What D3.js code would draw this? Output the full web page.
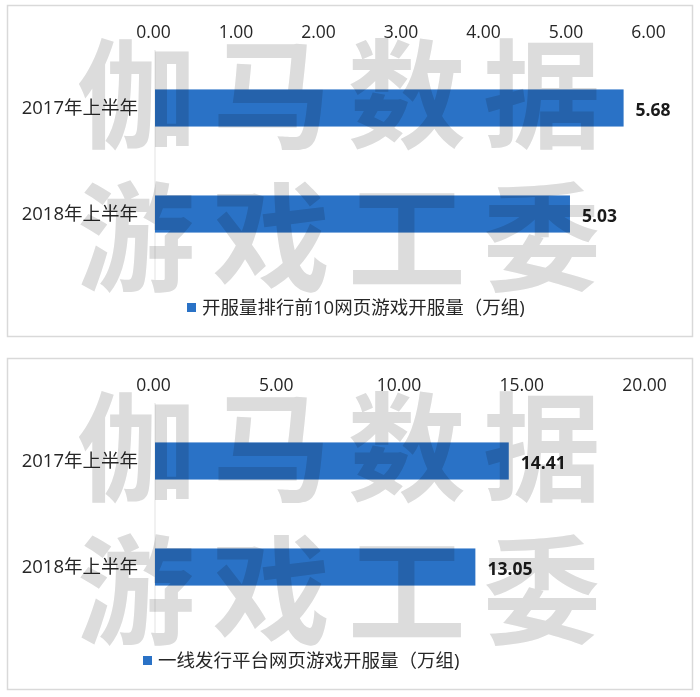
<!DOCTYPE html>
<html><head><meta charset="utf-8">
<script src="https://cdn.jsdelivr.net/npm/d3@7"></script>
<style>
html,body{margin:0;padding:0;background:#fff;}
svg{display:block;}
</style></head>
<body>
<script>
const categories = ["2017年上半年", "2018年上半年"];
const seriesTop = [5.68, 5.03];
const seriesBottom = [14.41, 13.05];
const ticksTop = [0, 1, 2, 3, 4, 5, 6];
const ticksBottom = [0, 5, 10, 15, 20];
const legendTop = "开服量排行前10网页游戏开服量（万组)";
const legendBottom = "一线发行平台网页游戏开服量（万组)";
const watermark = ["伽马数据", "游戏工委"];

const W = 700, H = 697;
const svg = d3.select("body").append("svg").attr("width", W).attr("height", H);
svg.append("rect").attr("width", W).attr("height", H).attr("fill", "#fff");

const FONT = "'Open Sans', 'Noto Sans CJK SC', sans-serif";
const WMFONT = "'Noto Sans CJK SC', sans-serif";
const BLUE = "#2a72c6";
const FS = 18.5;

function panel(top, values, ticks, legendText, legendX, xEnd) {
  const g = svg.append("g");
  g.append("rect").attr("x", 7.5).attr("y", top + 0.5).attr("width", 685).attr("height", 331)
    .attr("fill", "#fff").attr("stroke", "#d9d9d9").attr("stroke-width", 1.5);

  const x = d3.scaleLinear().domain([0, d3.max(ticks)]).range([155, xEnd]);
  const y = d3.scaleBand().domain(categories).range([top + 15.5, top + 296.5]).padding(0.65);

  g.append("line").attr("x1", x(0)).attr("x2", x(0))
    .attr("y1", top + 45).attr("y2", top + 275)
    .attr("stroke", "#e3e3e3").attr("stroke-width", 1);

  const ax = g.append("g").attr("transform", `translate(-2,${top + 33})`)
    .call(d3.axisTop(x).tickValues(ticks).tickSize(0).tickPadding(0).tickFormat(d3.format(".2f")));
  ax.select(".domain").remove();
  ax.selectAll("text").attr("font-family", FONT).attr("font-size", 17.5).attr("fill", "#262626");

  g.selectAll(".bar").data(values).enter().append("rect")
    .attr("x", x(0)).attr("y", (d, i) => y(categories[i]))
    .attr("width", d => x(d) - x(0)).attr("height", y.bandwidth())
    .attr("fill", BLUE);

  g.selectAll(".cat").data(categories).enter().append("text")
    .attr("x", 138).attr("y", d => y(d) + y.bandwidth() / 2)
    .attr("dy", "0.35em").attr("text-anchor", "end")
    .attr("font-family", FONT).attr("font-size", FS).attr("fill", "#262626")
    .text(d => d);

  g.selectAll(".val").data(values).enter().append("text")
    .attr("x", d => x(d) + 12).attr("y", (d, i) => y(categories[i]) + y.bandwidth() / 2 + 2)
    .attr("dy", "0.35em")
    .attr("font-family", FONT).attr("font-weight", "bold").attr("font-size", 17.5).attr("fill", "#1a1a1a")
    .text(d => d3.format(".2f")(d));

  g.append("rect").attr("x", legendX).attr("y", top + 298).attr("width", 9).attr("height", 9).attr("fill", BLUE);
  g.append("text").attr("x", legendX + 15).attr("y", top + 303).attr("dy", "0.35em")
    .attr("font-family", FONT).attr("font-size", FS).attr("fill", "#262626")
    .text(legendText);

  const wm = [top + 82, top + 225];
  watermark.forEach((t, i) => {
    svg.append("text").attr("x", 77).attr("y", wm[i])
      .attr("dominant-baseline", "central")
      .attr("textLength", 524).attr("lengthAdjust", "spacing")
      .attr("font-family", WMFONT).attr("font-weight", "bold").attr("font-size", 118)
      .attr("fill", "#dcdcdc").style("mix-blend-mode", "multiply")
      .text(t);
  });
}

panel(5, seriesTop, ticksTop, legendTop, 187, 650);
panel(358, seriesBottom, ticksBottom, legendBottom, 143, 646);
</script>
</body></html>
